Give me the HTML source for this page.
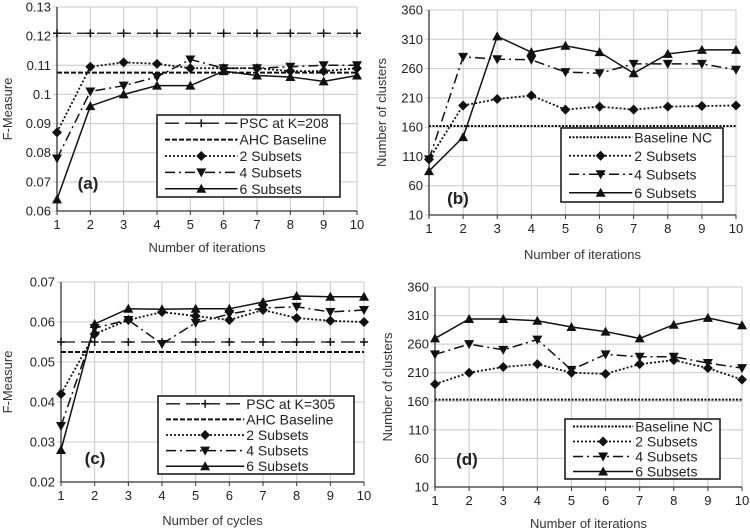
<!DOCTYPE html>
<html><head><meta charset="utf-8"><style>
body{margin:0;background:#fff;}
svg{display:block;font-family:"Liberation Sans",sans-serif;}
</style></head><body>
<svg id="s" width="750" height="532" viewBox="0 0 750 532"></svg>
<script>
const xCats=[1,2,3,4,5,6,7,8,9,10];
const aTicks=[0.06,0.07,0.08,0.09,0.1,0.11,0.12,0.13];
const aTickLabels=["0.06","0.07","0.08","0.09","0.1","0.11","0.12","0.13"];
const aPSC=[0.121,0.121,0.121,0.121,0.121,0.121,0.121,0.121,0.121,0.121];
const aAHC=[0.1075,0.1075,0.1075,0.1075,0.1075,0.1075,0.1075,0.1075,0.1075,0.1075];
const a2=[0.087,0.1095,0.111,0.1105,0.109,0.109,0.109,0.108,0.108,0.109];
const a4=[0.078,0.101,0.103,0.106,0.112,0.109,0.109,0.1095,0.11,0.11];
const a6=[0.064,0.096,0.1,0.103,0.103,0.108,0.1065,0.106,0.1045,0.1065];
const bTicks=[10,60,110,160,210,260,310,360];
const bBase=[162,162,162,162,162,162,162,162,162,162];
const b2=[105,197,208,214,190,195,190,195,196,197];
const b4=[105,280,276,275,254,252,268,268,268,258];
const b6=[85,143,315,288,299,288,252,285,292,292];
const cTicks=[0.02,0.03,0.04,0.05,0.06,0.07];
const cTickLabels=["0.02","0.03","0.04","0.05","0.06","0.07"];
const cPSC=[0.055,0.055,0.055,0.055,0.055,0.055,0.055,0.055,0.055,0.055];
const cAHC=[0.0525,0.0525,0.0525,0.0525,0.0525,0.0525,0.0525,0.0525,0.0525,0.0525];
const c2=[0.042,0.057,0.0605,0.0625,0.0615,0.0605,0.063,0.061,0.0603,0.06];
const c4=[0.034,0.0585,0.0605,0.0545,0.0598,0.062,0.0635,0.0638,0.0625,0.063];
const c6=[0.028,0.0595,0.0633,0.0632,0.0633,0.0633,0.065,0.0665,0.0663,0.0663];
const dBase=[163,163,163,163,163,163,163,163,163,163];
const d2=[190,210,220,225,210,208,225,232,218,198];
const d4=[242,260,250,268,215,242,238,238,227,218];
const d6=[270,304,304,301,290,282,270,294,306,293];

const S=document.getElementById('s');
const NS='http://www.w3.org/2000/svg';
function el(t,at,p){const e=document.createElementNS(NS,t);for(const k in at)e.setAttribute(k,at[k]);(p||S).appendChild(e);return e;}
const styles={
 psc:{dash:'14 6',w:1.3,m:'plus'},
 ahc:{dash:'5 2',w:2,m:null},
 base:{dash:'2 1.5',w:2,m:null},
 s2:{dash:'2 2',w:1.8,m:'diamond'},
 s4:{dash:'10 4 2 4',w:1.5,m:'down'},
 s6:{dash:'',w:1.5,m:'up'}
};
function marker(g,type,x,y){
 let e;
 if(type==='plus'){e=el('path',{d:`M${x-4} ${y}H${x+4}M${x} ${y-4}V${y+4}`,stroke:'#111','stroke-width':1.5},g);}
 else if(type==='diamond'){e=el('path',{d:`M${x} ${y-5}L${x+5} ${y}L${x} ${y+5}L${x-5} ${y}Z`,fill:'#111'},g);}
 else if(type==='down'){e=el('path',{d:`M${x-5} ${y-4}L${x+5} ${y-4}L${x} ${y+5}Z`,fill:'#111'},g);}
 else {e=el('path',{d:`M${x-5} ${y+4}L${x+5} ${y+4}L${x} ${y-5}Z`,fill:'#111'},g);}
 
 
}
function panel(cfg){
 const g=el('g',{});
 
 
 const {x0,x1,y0,y1,ymin,ymax}=cfg;
 const X=v=>x0+(v-1)/9*(x1-x0);
 const Y=v=>y1-(v-ymin)/(ymax-ymin)*(y1-y0);
 xCats.forEach(c=>{const l=el('line',{x1:X(c),x2:X(c),y1:y0,y2:y1,stroke:'#c8c8c8','stroke-width':1},g);});
 cfg.ticks.forEach((t,i)=>{
  const l=el('line',{x1:x0-4,x2:x1,y1:Y(t),y2:Y(t),stroke:'#c8c8c8','stroke-width':1},g);
  
  const tx=el('text',{x:x0-6,y:Y(t)+4.5,'text-anchor':'end','font-size':13,fill:'#222'},g);
  tx.textContent=cfg.labels?cfg.labels[i]:t;
  
 });
 el('line',{x1:x0,x2:x0,y1:y0,y2:y1,stroke:'#333','stroke-width':1.3},g);
 el('line',{x1:x0,x2:x1,y1:y1,y2:y1,stroke:'#333','stroke-width':1.3},g);
 xCats.forEach(c=>{
  el('line',{x1:X(c),x2:X(c),y1:y1,y2:y1+4,stroke:'#333'},g);
  const tx=el('text',{x:X(c),y:y1+18,'text-anchor':'middle','font-size':13,fill:'#222'},g);
  tx.textContent=c;
 });
 cfg.series.forEach(s=>{
  const st=styles[s.k];
  const pts=s.v.map((v,i)=>X(xCats[i])+','+Y(v)).join(' ');
  const pl=el('polyline',{points:pts,fill:'none',stroke:'#111','stroke-width':st.w,'stroke-dasharray':st.dash},g);
  
  
  if(st.m) s.v.forEach((v,i)=>marker(g,st.m,X(xCats[i]),Y(v)));
 });
 const xt=el('text',{x:(x0+x1)/2,y:cfg.xty,'text-anchor':'middle','font-size':13,fill:'#333'},g);
 xt.textContent=cfg.xtitle;
 const yt=el('text',{x:0,y:0,'text-anchor':'middle','font-size':13,fill:'#333',transform:`translate(${cfg.ytx},${(y0+y1)/2}) rotate(-90)`},g);
 yt.textContent=cfg.ytitle;
 const pl=el('text',{x:cfg.lab[0],y:cfg.lab[1],'text-anchor':'middle','font-size':17,'font-weight':'bold',fill:'#222'},g);
 pl.textContent='('+cfg.id+')';
 const [lx0,ly0,lx1,ly1]=cfg.leg;
 const lg=el('g',{},g);
 
 el('rect',{x:lx0,y:ly0,width:lx1-lx0,height:ly1-ly0,fill:'#fff',stroke:'#111','stroke-width':1.5},lg);
 const n=cfg.series.length,rh=(ly1-ly0)/n;
 const sx0=lx0+8,sx1=lx0+(lx1-lx0)*0.44;
 cfg.series.forEach((s,i)=>{
  const st=styles[s.k];const yy=ly0+rh*(i+0.5);
  const e=el('g',{},lg);
  
  el('line',{x1:sx0,x2:sx1,y1:yy,y2:yy,stroke:'#111','stroke-width':st.w,'stroke-dasharray':st.dash},e);
  if(st.m)marker(e,st.m,(sx0+sx1)/2,yy);
  const t=el('text',{x:sx1+2,y:yy+5,'font-size':14,fill:'#222'},e);t.textContent=s.name;
 });
}
panel({id:'a',x0:57,x1:357,y0:7,y1:211,ymin:0.06,ymax:0.13,ticks:aTicks,labels:aTickLabels,xtitle:'Number of iterations',xty:252,ytitle:'F-Measure',ytx:12,lab:[88,189],leg:[157,115,340,197],
 series:[{k:'psc',name:'PSC at K=208',v:aPSC},{k:'ahc',name:'AHC Baseline',v:aAHC},{k:'s2',name:'2 Subsets',v:a2},{k:'s4',name:'4 Subsets',v:a4},{k:'s6',name:'6 Subsets',v:a6}]});
panel({id:'b',x0:429,x1:736,y0:10,y1:215,ymin:10,ymax:360,ticks:bTicks,xtitle:'Number of iterations',xty:259,ytitle:'Number of clusters',ytx:386,lab:[458,204],leg:[561,128,723,202],
 series:[{k:'base',name:'Baseline NC',v:bBase},{k:'s2',name:'2 Subsets',v:b2},{k:'s4',name:'4 Subsets',v:b4},{k:'s6',name:'6 Subsets',v:b6}]});
panel({id:'c',x0:61,x1:364,y0:282,y1:482,ymin:0.02,ymax:0.07,ticks:cTicks,labels:cTickLabels,xtitle:'Number of cycles',xty:525,ytitle:'F-Measure',ytx:12,lab:[95,464],leg:[158,396,354,474],
 series:[{k:'psc',name:'PSC at K=305',v:cPSC},{k:'ahc',name:'AHC Baseline',v:cAHC},{k:'s2',name:'2 Subsets',v:c2},{k:'s4',name:'4 Subsets',v:c4},{k:'s6',name:'6 Subsets',v:c6}]});
panel({id:'d',x0:435,x1:742,y0:287,y1:487,ymin:10,ymax:360,ticks:bTicks,xtitle:'Number of iterations',xty:528,ytitle:'Number of clusters',ytx:392,lab:[467,465],leg:[565,419,720,479],
 series:[{k:'base',name:'Baseline NC',v:dBase},{k:'s2',name:'2 Subsets',v:d2},{k:'s4',name:'4 Subsets',v:d4},{k:'s6',name:'6 Subsets',v:d6}]});
</script>
</body></html>
